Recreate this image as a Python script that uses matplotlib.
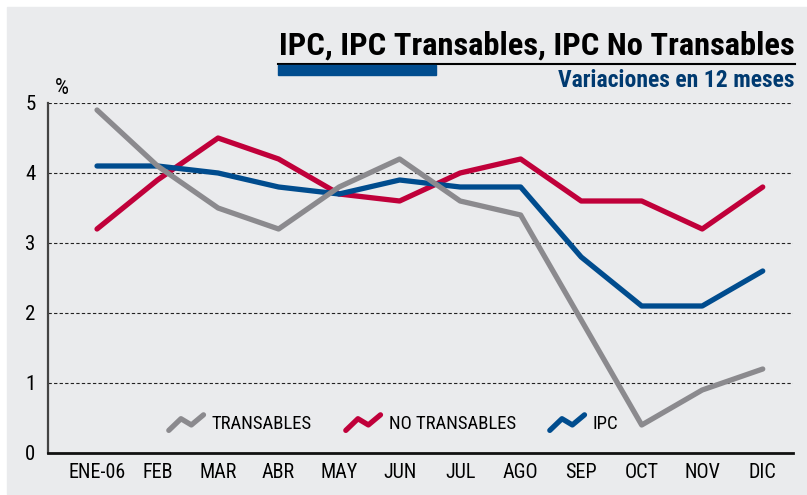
import numpy as np
import matplotlib
matplotlib.use("Agg")
import matplotlib.pyplot as plt
from matplotlib.lines import Line2D
from matplotlib.patches import Rectangle
from matplotlib.legend_handler import HandlerBase

plt.rcParams['font.family'] = ['Roboto Condensed', 'Archivo Narrow', 'DejaVu Sans']

meses = ["ENE-06", "FEB", "MAR", "ABR", "MAY", "JUN", "JUL", "AGO", "SEP", "OCT", "NOV", "DIC"]
transables = [4.9, 4.1, 3.5, 3.2, 3.8, 4.2, 3.6, 3.4, 1.9, 0.4, 0.9, 1.2]
no_transables = [3.2, 3.9, 4.5, 4.2, 3.7, 3.6, 4.0, 4.2, 3.6, 3.6, 3.2, 3.8]
ipc = [4.1, 4.1, 4.0, 3.8, 3.7, 3.9, 3.8, 3.8, 2.8, 2.1, 2.1, 2.6]
yticks = [0, 1, 2, 3, 4, 5]

GRIS = '#8b8a8e'
ROJO = '#c0003a'
AZUL = '#004c8e'
FONDO = '#eaebed'


class ZigZag(HandlerBase):
    # icono en zigzag para la leyenda
    def create_artists(self, legend, orig_handle, xdescent, ydescent,
                       width, height, fontsize, trans):
        xs = np.array([0.0, 0.35, 0.65, 1.0]) * width - xdescent
        ys = (np.array([0.0, 0.75, 0.35, 1.0]) * height) - ydescent
        ln = Line2D(xs, ys, color=orig_handle.get_color(), lw=3.8,
                    solid_capstyle='round', solid_joinstyle='round', transform=trans)
        return [ln]


fig = plt.figure(figsize=(8.07, 4.95), dpi=100)
fig.patches.append(Rectangle((7/807, 1/495), 1, 487/495, transform=fig.transFigure,
                             color=FONDO, zorder=-5))

ax = fig.add_axes([48/807, 42/495, 745/807, 350/495])
ax.set_facecolor('none')
x = np.arange(len(meses))

l2, = ax.plot(x, no_transables, color=ROJO, lw=3.8, solid_capstyle='round', zorder=3)
l3, = ax.plot(x, ipc, color=AZUL, lw=3.8, solid_capstyle='round', zorder=3)
l1, = ax.plot(x, transables, color=GRIS, lw=3.8, solid_capstyle='round', zorder=4)

ax.set_ylim(0, 5)
ax.set_xlim(-0.81, 11.5)
ax.set_yticks(yticks)
ax.set_yticklabels([str(v) for v in yticks], fontsize=15)
ax.set_xticks(x)
ax.set_xticklabels(meses, fontsize=14.5)
ax.tick_params(length=0, pad=7)
ax.tick_params(axis='y', pad=9)
for v in yticks[1:]:
    ax.axhline(v, color='#222222', lw=0.8, ls=(0, (3, 2)), zorder=1)
for s in ['top', 'right']:
    ax.spines[s].set_visible(False)
ax.spines['left'].set_color('#444444')
ax.spines['left'].set_linewidth(1.6)
ax.spines['bottom'].set_color('#111111')
ax.spines['bottom'].set_linewidth(2)

ax.text(-0.58, 5.05, '%', fontsize=16, ha='center', va='bottom')

ax.legend([l1, l2, l3], ['TRANSABLES', 'NO TRANSABLES', 'IPC'],
          handler_map={Line2D: ZigZag()}, ncol=3, frameon=False,
          loc='center', bbox_to_anchor=(0.464, 0.083), fontsize=13.5,
          handlelength=1.85, handleheight=0.9, handletextpad=0.45, columnspacing=1.8)

# titulo
fig.text(795/807, 1 - 55/495, 'IPC, IPC Transables, IPC No Transables', ha='right',
         va='baseline', fontsize=23.4, fontweight='bold', color='black')
fig.add_artist(Line2D([278/807, 795/807], [1 - 63.5/495, 1 - 63.5/495], color='black',
                      lw=1.5, transform=fig.transFigure))
fig.patches.append(Rectangle((278/807, 1 - 75/495), 158/807, 10/495,
                             transform=fig.transFigure, color=AZUL, zorder=2))
fig.text(795/807, 1 - 87/495, 'Variaciones en 12 meses', ha='right', va='baseline',
         fontsize=17, fontweight='bold', color='#003a70')

fig.savefig('out.png', dpi=100)
